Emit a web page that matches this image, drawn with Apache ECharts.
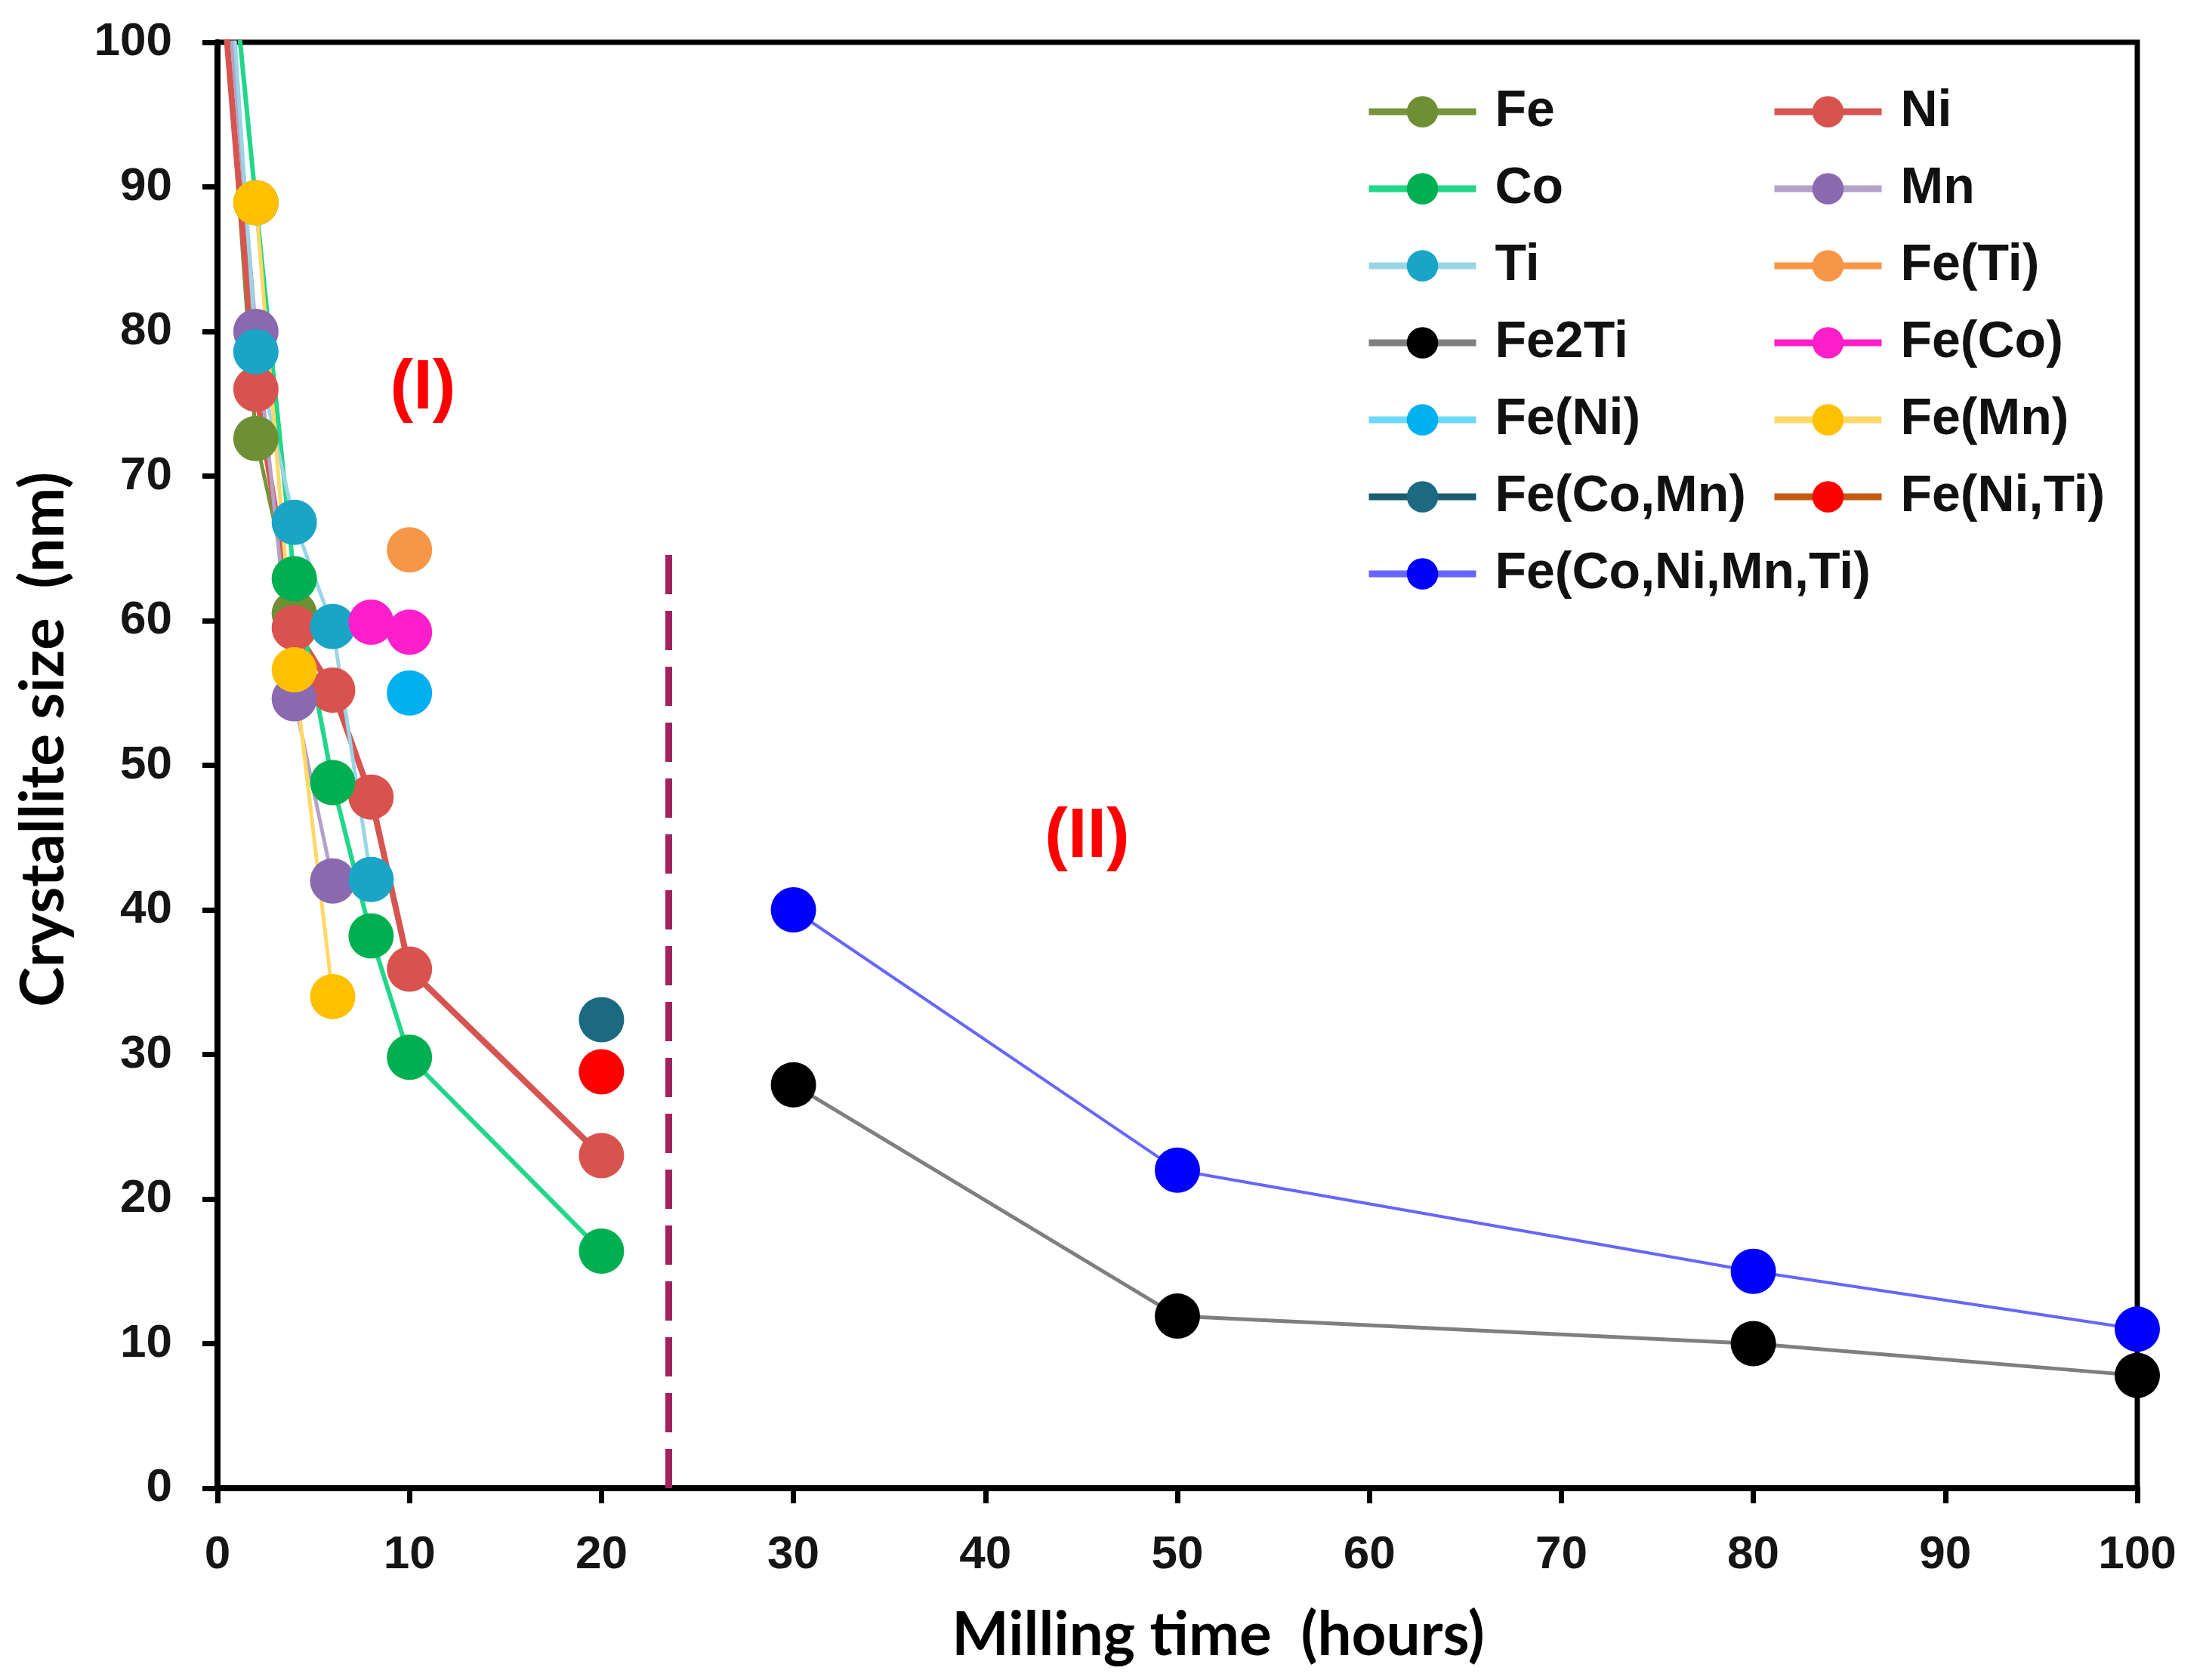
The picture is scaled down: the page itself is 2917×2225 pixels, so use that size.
<!DOCTYPE html>
<html><head><meta charset="utf-8">
<script src="https://cdn.jsdelivr.net/npm/echarts@6/dist/echarts.min.js"></script>
<style>html,body{margin:0;padding:0;background:#fff}#c{width:2917px;height:2225px}</style>
</head><body><div id="c"></div>
<script>
// ---- data (x = milling time in hours, y = crystallite size in nm) ----
const seriesNames = ['Fe','Ni','Co','Mn','Ti','Fe(Ti)','Fe2Ti','Fe(Co)','Fe(Ni)','Fe(Mn)','Fe(Co,Mn)','Fe(Ni,Ti)','Fe(Co,Ni,Mn,Ti)'];
const legendLeftCol  = ['Fe','Co','Ti','Fe2Ti','Fe(Ni)','Fe(Co,Mn)','Fe(Co,Ni,Mn,Ti)'];
const legendRightCol = ['Ni','Mn','Fe(Ti)','Fe(Co)','Fe(Mn)','Fe(Ni,Ti)'];

const feData     = [[0,110],[2,72.6],[4,60.5]];
const niData     = [[0,108],[2,76],[4,59.5],[6,55.2],[8,47.8],[10,35.9],[20,23]];
const coData     = [[0,116],[2,88.9],[4,62.9],[6,48.8],[8,38.2],[10,29.8],[20,16.4]];
const mnData     = [[0,112],[2,80],[4,54.6],[6,42]];
const tiData     = [[0,118],[2,78.6],[4,66.8],[6,59.6],[8,42.1]];
const feTiData   = [[10,64.9]];
const fe2TiData  = [[30,27.9],[50,11.9],[80,10],[100,7.8]];
const feCoData   = [[8,59.9],[10,59.2]];
const feNiData   = [[10,55]];
const feMnData   = [[2,88.9],[4,56.6],[6,34]];
const feCoMnData = [[20,32.4]];
const feNiTiData = [[20,28.8]];
const feAllData  = [[30,40],[50,22],[80,15],[100,11]];

const xTicks = {min:0, max:100, step:10};
const yTicks = {min:0, max:100, step:10};
const dividerX = 23.5, dividerTop = 65;
const regionLabels = ['(I)','(II)'];
const regionAt = [[10.7,76],[45.3,45]];

// ---- styles ----
const style = {
  'Fe':              {line:'#77933C', mark:'#6F8F35', w:5},
  'Ni':              {line:'#D65550', mark:'#D9534E', w:8},
  'Co':              {line:'#22D68A', mark:'#00B050', w:6},
  'Mn':              {line:'#B3A2C7', mark:'#8A69B0', w:5},
  'Ti':              {line:'#9AD5E5', mark:'#1AA5C6', w:5},
  'Fe(Ti)':          {line:'#F79646', mark:'#F79646', w:5},
  'Fe2Ti':           {line:'#7F7F7F', mark:'#000000', w:5},
  'Fe(Co)':          {line:'#FF1ECC', mark:'#FF1ECC', w:5},
  'Fe(Ni)':          {line:'#6DD8FA', mark:'#00B0F0', w:5},
  'Fe(Mn)':          {line:'#FFD966', mark:'#FFC000', w:5},
  'Fe(Co,Mn)':       {line:'#1B5D70', mark:'#1B6A82', w:5},
  'Fe(Ni,Ti)':       {line:'#C55A11', mark:'#FF0000', w:5},
  'Fe(Co,Ni,Mn,Ti)': {line:'#6666FF', mark:'#0000FF', w:4}
};
const dataByName = {
  'Fe':feData,'Ni':niData,'Co':coData,'Mn':mnData,'Ti':tiData,'Fe(Ti)':feTiData,'Fe2Ti':fe2TiData,
  'Fe(Co)':feCoData,'Fe(Ni)':feNiData,'Fe(Mn)':feMnData,'Fe(Co,Mn)':feCoMnData,'Fe(Ni,Ti)':feNiTiData,
  'Fe(Co,Ni,Mn,Ti)':feAllData
};

const series = seriesNames.map(n => ({
  name: n, type: 'line', data: dataByName[n],
  symbol: 'circle', symbolSize: 60, clip: true, connectNulls: false,
  lineStyle: {color: style[n].line, width: style[n].w},
  itemStyle: {color: style[n].mark},
  emphasis: {disabled: true}, animation: false
}));

// annotations: divider and region labels
series.push({
  type: 'line', data: [], silent: true, animation: false,
  markLine: {
    symbol: ['none','none'], silent: true, animation: false,
    lineStyle: {type: [52, 22], color: '#A2215E', width: 9},
    label: {show: false},
    data: [[{coord:[dividerX,0]},{coord:[dividerX,dividerTop]}]]
  },
  markPoint: {
    symbol: 'circle', symbolSize: 1, silent: true, animation: false,
    itemStyle: {color: 'rgba(0,0,0,0)'},
    label: {show: true, position: 'inside', color: '#FF0000', fontSize: 92, fontWeight: 'bold',
            fontFamily: 'Liberation Sans', formatter: p => p.name},
    data: regionLabels.map((t,i) => ({name: t, coord: regionAt[i]}))
  }
});

const legendText = {fontSize: 68, fontWeight: 'bold', fontFamily: 'Liberation Sans', color: '#111',
  lineHeight: 66, padding: [0,0,0,20]};
const legendCommon = {orient:'vertical', itemWidth: 142, itemHeight: 52, itemGap: 34,
  textStyle: legendText, lineStyle: {width: 9}, selectedMode: false, padding: 0};

const axisLabelStyle = {fontSize: 62, fontWeight: 'bold', fontFamily: 'Liberation Sans', color: '#151515'};

const chart = echarts.init(document.getElementById('c'), null, {renderer: 'canvas'});
chart.setOption({
  backgroundColor: '#fff',
  animation: false,
  grid: {left: 288, right: 87, top: 56, bottom: 254, show: true, borderColor: '#000', borderWidth: 7, backgroundColor: 'transparent'},
  xAxis: {
    type: 'value', min: xTicks.min, max: xTicks.max, interval: xTicks.step,
    name: 'Milling time  (hours)', nameLocation: 'middle', nameGap: 155,
    nameTextStyle: {fontSize: 80, fontWeight: 'bold', fontFamily: 'Lato', color: '#000', padding: [0,0,0,108]},
    axisLine: {show: true, onZero: false, lineStyle: {color: '#000', width: 8}},
    axisTick: {show: true, length: 20, lineStyle: {color: '#000', width: 7}},
    axisLabel: Object.assign({margin: 58}, axisLabelStyle),
    splitLine: {show: false}
  },
  yAxis: {
    type: 'value', min: yTicks.min, max: yTicks.max, interval: yTicks.step,
    name: 'Crystallite size  (nm)', nameLocation: 'middle', nameGap: 190, nameRotate: 90,
    nameTextStyle: {fontSize: 80, fontWeight: 'bold', fontFamily: 'Lato', color: '#000', padding: [0,0,0,68]},
    axisLine: {show: true, onZero: false, lineStyle: {color: '#000', width: 8}},
    axisTick: {show: true, length: 20, lineStyle: {color: '#000', width: 7}},
    axisLabel: Object.assign({margin: 60}, axisLabelStyle),
    splitLine: {show: false}
  },
  legend: [
    Object.assign({data: legendLeftCol, left: 1808, top: 114}, legendCommon),
    Object.assign({data: legendRightCol, left: 2345, top: 114}, legendCommon)
  ],
  series: series
});
</script></body></html>
